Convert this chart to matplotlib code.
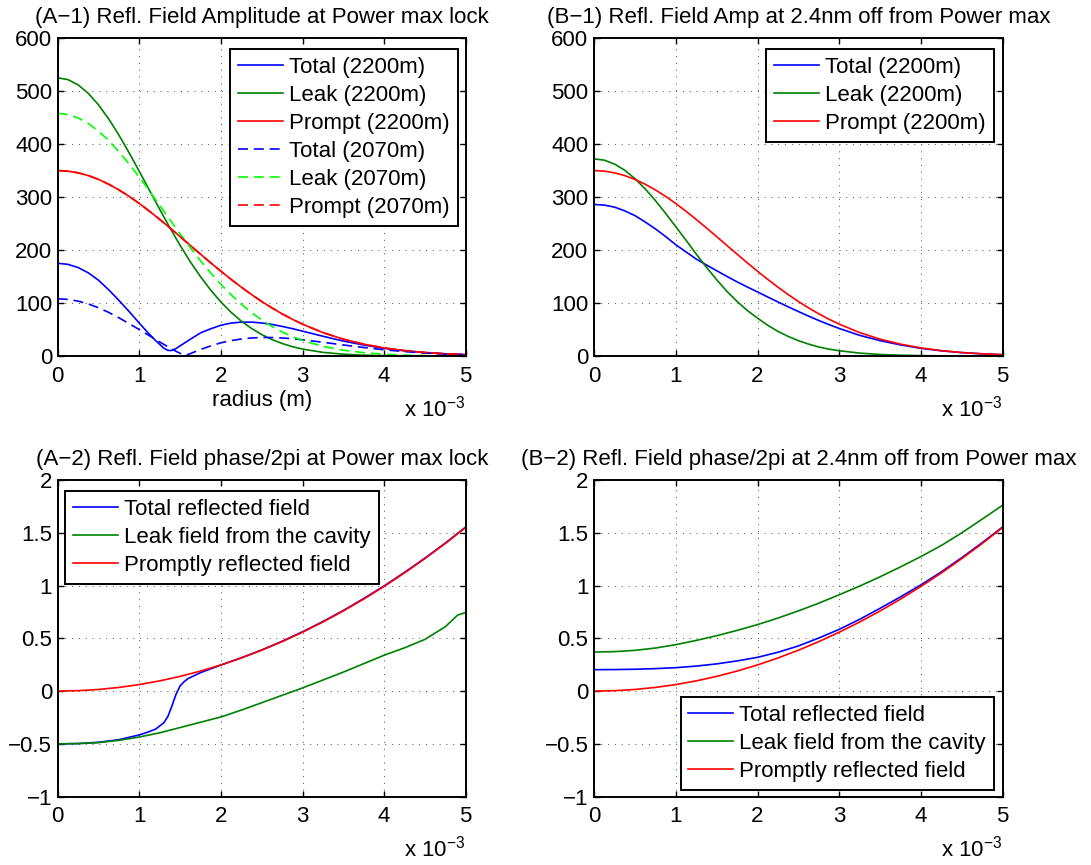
import matplotlib.pyplot as plt

plt.rcParams['font.family'] = ['Liberation Sans', 'DejaVu Sans']
plt.rcParams['mathtext.fontset'] = 'custom'
plt.rcParams['mathtext.rm'] = 'Liberation Sans'
plt.rcParams['mathtext.it'] = 'Liberation Sans:italic'
plt.rcParams['font.size'] = 16
plt.rcParams['axes.linewidth'] = 1.4

# radius in units of 1e-3 m
r = [0.0, 0.25, 0.5, 0.75, 1.0, 1.25, 1.5, 1.75, 2.0, 2.25, 2.5,
     2.75, 3.0, 3.25, 3.5, 3.75, 4.0, 4.25, 4.5, 4.75, 5.0]
r_fine = [0.0, 0.125, 0.25, 0.375, 0.5, 0.625, 0.75, 0.875, 1.0, 1.125, 1.25, 1.375,
          1.5, 1.625, 1.75, 1.875, 2.0, 2.125, 2.25, 2.375, 2.5, 2.625, 2.75, 2.875,
          3.0, 3.25, 3.5, 3.75, 4.0, 4.25, 4.5, 4.75, 5.0]

# (A-1) amplitudes
prompt_amp = [350, 348.9, 345.7, 340.5, 333.3, 324.2, 313.5, 301.3, 287.8, 273.2, 257.8,
              241.8, 225.3, 208.7, 192.2, 175.8, 160.0, 144.6, 129.9, 116.0, 102.9, 90.8,
              79.6, 69.4, 60.1, 44.2, 31.8, 22.4, 15.3, 10.2, 6.6, 4.2, 2.6]
leak_2200 = [525, 521.6, 511.7, 495.6, 473.9, 447.3, 416.9, 383.5, 348.4, 312.4, 276.8,
             241.8, 208.8, 177.8, 149.7, 124.4, 101.9, 82.4, 65.9, 52.0, 40.5, 31.1,
             23.7, 17.7, 13.1, 6.9, 3.5, 1.6, 0.75, 0.3, 0.13, 0.05, 0.02]
leak_2070 = [458, 455.8, 449.3, 438.8, 424.3, 406.5, 385.7, 362.4, 337.6, 311.4, 284.3,
             257.3, 230.4, 204.6, 179.8, 156.7, 135.1, 115.5, 97.7, 81.9, 68.0, 55.9,
             45.5, 36.7, 29.4, 18.2, 10.9, 6.3, 3.5, 1.8, 0.9, 0.45, 0.2]

r_tot_2200 = [0.0, 0.125, 0.25, 0.375, 0.5, 0.625, 0.75, 0.875, 1.0, 1.1, 1.2, 1.3, 1.35,
              1.4, 1.45, 1.5, 1.6, 1.75, 1.875, 2.0, 2.125, 2.25, 2.375, 2.5, 2.625, 2.75,
              2.875, 3.0, 3.25, 3.5, 3.75, 4.0, 4.25, 4.5, 4.75, 5.0]
total_2200 = [175, 173, 167, 157, 143, 125, 105, 84, 62, 45, 29, 15, 10.6,
              10.5, 14.1, 19.3, 29.2, 43.7, 51.4, 58.1, 62.2, 64, 64, 62.4, 59.7, 55.9,
              51.7, 47, 37.3, 28.3, 20.8, 14.5, 9.9, 6.5, 4.15, 2.6]

r_tot_2070 = [0.0, 0.125, 0.25, 0.375, 0.5, 0.625, 0.75, 0.875, 1.0, 1.125, 1.25, 1.35,
              1.45, 1.5, 1.55, 1.6, 1.75, 1.875, 2.0, 2.125, 2.25, 2.375, 2.5, 2.625,
              2.75, 2.875, 3.0, 3.25, 3.5, 3.75, 4.0, 4.25, 4.5, 4.75, 5.0]
total_2070 = [108, 106.9, 103.6, 98.3, 91, 82.3, 72.2, 61.1, 49.8, 38.2, 26.5, 17.6,
              8.9, 5.1, 2, 3, 12.4, 19.1, 25, 29.1, 32.2, 34.1, 35, 34.9,
              34.1, 32.7, 30.7, 26, 20.9, 16.1, 11.8, 8.4, 5.7, 3.75, 2.4]

# (B-1) amplitudes, 2.4nm off
leak_off = [372, 369.6, 362.3, 350.6, 334.8, 315.5, 293.4, 269.4, 244, 218.6, 192.4,
            167.6, 144, 122.1, 103, 86, 71.5, 58, 46.5, 37, 29, 22.5,
            17, 13, 10, 5.5, 3, 1.5, 0.8, 0.4, 0.2, 0.1, 0.05]
total_off = [286, 284.8, 281, 274, 265, 253, 240, 225.5, 210, 196.5, 183,
             171.8, 161, 150.3, 140, 130.3, 121, 111.4, 102, 92.9, 84, 75.3,
             67, 59.3, 52, 39, 29, 21, 14.5, 9.8, 6.4, 4.1, 2.5]

# (A-2) phases / 2pi
prompt_ph = [0, 0.0039, 0.0155, 0.0349, 0.062, 0.0969, 0.1395, 0.1899, 0.248, 0.3139, 0.3875,
             0.4689, 0.558, 0.6549, 0.7595, 0.8719, 0.992, 1.1199, 1.2555, 1.3989, 1.55]
r_leak_ph = [0.0, 0.25, 0.5, 0.75, 1.0, 1.25, 1.5, 1.75, 2.0, 2.25, 2.5,
             2.75, 3.0, 3.25, 3.5, 3.75, 4.0, 4.25, 4.5, 4.75, 4.9, 5.0]
leak_ph = [-0.5, -0.497, -0.488, -0.466, -0.435, -0.395, -0.345, -0.295, -0.245, -0.18, -0.11,
           -0.04, 0.03, 0.105, 0.18, 0.26, 0.34, 0.41, 0.49, 0.61, 0.72, 0.745]
r_tot_ph = [0.0, 0.25, 0.5, 0.75, 1.0, 1.1, 1.2, 1.3, 1.35, 1.4, 1.45, 1.5, 1.55, 1.6, 1.75,
            2.0, 2.25, 2.5, 2.75, 3.0, 3.25, 3.5, 3.75, 4.0, 4.25, 4.5, 4.75, 5.0]
total_ph = [-0.5, -0.497, -0.485, -0.46, -0.415, -0.39, -0.36, -0.3, -0.24, -0.14, -0.03, 0.05,
            0.09, 0.12, 0.175, 0.247, 0.316, 0.39, 0.472, 0.562, 0.659, 0.764, 0.877, 0.997,
            1.125, 1.26, 1.403, 1.555]

# (B-2) phases / 2pi, 2.4nm off
leak_ph_off = [0.37, 0.374, 0.386, 0.408, 0.44, 0.48, 0.525, 0.575, 0.63, 0.692, 0.76,
               0.833, 0.913, 0.995, 1.083, 1.177, 1.275, 1.38, 1.5, 1.63, 1.762]
total_ph_off = [0.203, 0.204, 0.207, 0.213, 0.222, 0.237, 0.258, 0.286, 0.32, 0.368, 0.428,
                0.503, 0.585, 0.68, 0.785, 0.893, 1.007, 1.13, 1.265, 1.407, 1.556]

amp_ticks = [0, 100, 200, 300, 400, 500, 600]
ph_ticks = [-1, -0.5, 0, 0.5, 1, 1.5, 2]
ph_labels = ['\u22121', '\u22120.5', '0', '0.5', '1', '1.5', '2']

BLUE = '#0000ff'
GREEN = '#008000'
RED = '#ff0000'
LGREEN = '#00ff00'
DASH = (0, (6, 3.5))


def style_axes(ax, title, ylim, yticks, ylabels=None):
    ax.set_xlim(0, 5)
    ax.set_ylim(*ylim)
    ax.set_xticks([0, 1, 2, 3, 4, 5])
    ax.set_yticks(yticks)
    if ylabels is not None:
        ax.set_yticklabels(ylabels)
    ax.tick_params(direction='in', length=4, width=1, top=True, right=True, labelsize=16)
    ax.tick_params(axis='x', pad=7)
    ax.tick_params(axis='y', pad=4)
    ax.grid(True, linestyle=(0, (1, 6)), color='0.3', linewidth=0.7)
    ax.set_title(title, fontsize=16, pad=10.5)
    ax.text(1.0, -0.19, r'x 10$^{-3}$', transform=ax.transAxes,
            ha='right', va='baseline', fontsize=16)


def add_legend(ax, **kw):
    leg = ax.legend(fancybox=False, framealpha=1, edgecolor='k', fontsize=16,
                    handlelength=2.0, handletextpad=0.3, labelspacing=0.32,
                    borderpad=0.35, borderaxespad=0, **kw)
    leg.get_frame().set_linewidth(1.4)
    return leg


fig = plt.figure(figsize=(10.91, 8.65), dpi=100)
ax1 = fig.add_axes([0.0529, 0.5884, 0.374, 0.3676])
ax2 = fig.add_axes([0.5445, 0.5884, 0.3746, 0.3676])
ax3 = fig.add_axes([0.0529, 0.0790, 0.374, 0.3661])
ax4 = fig.add_axes([0.5445, 0.0790, 0.3746, 0.3661])

lw = 1.2

# (A-1)
ax1.plot(r_tot_2200, total_2200, color=BLUE, lw=lw, label='Total (2200m)')
ax1.plot(r_fine, leak_2200, color=GREEN, lw=lw, label='Leak (2200m)')
ax1.plot(r_fine, prompt_amp, color=RED, lw=lw, label='Prompt (2200m)')
ax1.plot(r_tot_2070, total_2070, color=BLUE, lw=lw, ls=DASH, label='Total (2070m)')
ax1.plot(r_fine, leak_2070, color=LGREEN, lw=lw, ls=DASH, label='Leak (2070m)')
ax1.plot(r_fine, prompt_amp, color=RED, lw=lw, ls=DASH, label='Prompt (2070m)')
style_axes(ax1, '(A\u22121) Refl. Field Amplitude at Power max lock', (0, 600), amp_ticks)
ax1.set_xlabel('radius (m)', fontsize=16, labelpad=2)
add_legend(ax1, loc='upper right', bbox_to_anchor=(0.98, 0.966))

# (B-1)
ax2.plot(r_fine, total_off, color=BLUE, lw=lw, label='Total (2200m)')
ax2.plot(r_fine, leak_off, color=GREEN, lw=lw, label='Leak (2200m)')
ax2.plot(r_fine, prompt_amp, color=RED, lw=lw, label='Prompt (2200m)')
style_axes(ax2, '(B\u22121) Refl. Field Amp at 2.4nm off from Power max', (0, 600), amp_ticks)
add_legend(ax2, loc='upper right', bbox_to_anchor=(0.978, 0.966))

# (A-2)
ax3.plot(r_tot_ph, total_ph, color=BLUE, lw=lw, label='Total reflected field')
ax3.plot(r_leak_ph, leak_ph, color=GREEN, lw=lw, label='Leak field from the cavity')
ax3.plot(r, prompt_ph, color=RED, lw=lw, label='Promptly reflected field')
style_axes(ax3, '(A\u22122) Refl. Field phase/2pi at Power max lock', (-1, 2), ph_ticks, ph_labels)
add_legend(ax3, loc='upper left', bbox_to_anchor=(0.019, 0.965))

# (B-2)
ax4.plot(r, total_ph_off, color=BLUE, lw=lw, label='Total reflected field')
ax4.plot(r, leak_ph_off, color=GREEN, lw=lw, label='Leak field from the cavity')
ax4.plot(r, prompt_ph, color=RED, lw=lw, label='Promptly reflected field')
style_axes(ax4, '(B\u22122) Refl. Field phase/2pi at 2.4nm off from Power max', (-1, 2), ph_ticks, ph_labels)
add_legend(ax4, loc='lower right', bbox_to_anchor=(0.978, 0.022))

fig.savefig('out.png', dpi=100)
